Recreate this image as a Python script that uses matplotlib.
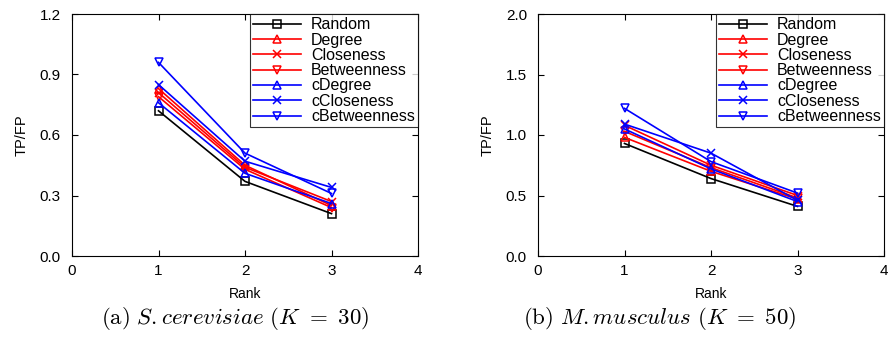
import matplotlib
matplotlib.use("Agg")
import matplotlib.pyplot as plt

plt.rcParams['font.family'] = ['Liberation Sans', 'DejaVu Sans']
plt.rcParams['mathtext.fontset'] = 'cm'

ranks = [1, 2, 3]
series_names = ["Random", "Degree", "Closeness", "Betweenness",
                "cDegree", "cCloseness", "cBetweenness"]

# S.cerevisiae (K=30)
a_random = [0.72, 0.37, 0.21]
a_degree = [0.83, 0.45, 0.25]
a_closeness = [0.81, 0.44, 0.27]
a_betweenness = [0.79, 0.43, 0.24]
a_cdegree = [0.76, 0.41, 0.26]
a_ccloseness = [0.85, 0.47, 0.34]
a_cbetweenness = [0.96, 0.51, 0.31]

# M.musculus (K=50)
b_random = [0.93, 0.64, 0.41]
b_degree = [0.98, 0.70, 0.47]
b_closeness = [1.08, 0.75, 0.50]
b_betweenness = [1.03, 0.73, 0.48]
b_cdegree = [1.05, 0.72, 0.45]
b_ccloseness = [1.09, 0.85, 0.46]
b_cbetweenness = [1.22, 0.78, 0.52]

colors = ['black', 'red', 'red', 'red', 'blue', 'blue', 'blue']
markers = ['s', '^', 'x', 'v', '^', 'x', 'v']

data_a = [a_random, a_degree, a_closeness, a_betweenness, a_cdegree, a_ccloseness, a_cbetweenness]
data_b = [b_random, b_degree, b_closeness, b_betweenness, b_cdegree, b_ccloseness, b_cbetweenness]

fig = plt.figure(figsize=(8.9, 3.4), dpi=100)
ax1 = fig.add_axes([72/890, 1-256/340, (418-72)/890, (256-14)/340])
ax2 = fig.add_axes([538/890, 1-256/340, (884-538)/890, (256-14)/340])

def draw(ax, data, ymax, yticks, ylabels):
    for name, vals, c, m in zip(series_names, data, colors, markers):
        ax.plot(ranks, vals, color=c, marker=m, markersize=6, markerfacecolor='none',
                markeredgecolor=c, markeredgewidth=1.1, linewidth=1.2, label=name)
    ax.set_xlim(0, 4)
    ax.set_ylim(0, ymax)
    ax.set_xticks([0, 1, 2, 3, 4])
    ax.set_yticks(yticks)
    ax.set_yticklabels(ylabels)
    ax.tick_params(direction='in', top=True, right=True, labelsize=11, length=4)
    ax.tick_params(axis='y', pad=8)
    ax.tick_params(axis='x', pad=6)
    ax.set_xlabel("Rank", fontsize=10, labelpad=6)
    ax.set_ylabel("TP/FP", fontsize=10.5, labelpad=8)
    leg = ax.legend(loc='upper right', fontsize=11.5, frameon=True, fancybox=False,
                    edgecolor='black', borderaxespad=0.0, handlelength=3.0,
                    labelspacing=0.02, borderpad=0.2, handletextpad=0.6)
    leg.get_frame().set_linewidth(0.8)

draw(ax1, data_a, 1.2, [0.0, 0.3, 0.6, 0.9, 1.2], ["0.0", "0.3", "0.6", "0.9", "1.2"])
draw(ax2, data_b, 2.0, [0.0, 0.5, 1.0, 1.5, 2.0], ["0.0", "0.5", "1.0", "1.5", "2.0"])

fig.text(235/890, 1-318/340, r"$\mathrm{(a)}\ \mathit{S.cerevisiae}\ (K\ =\ 30)$",
         ha='center', va='center', fontsize=16.5)
fig.text(660/890, 1-318/340, r"$\mathrm{(b)}\ \mathit{M.musculus}\ (K\ =\ 50)$",
         ha='center', va='center', fontsize=16.5)

fig.savefig("out.png", dpi=100)
